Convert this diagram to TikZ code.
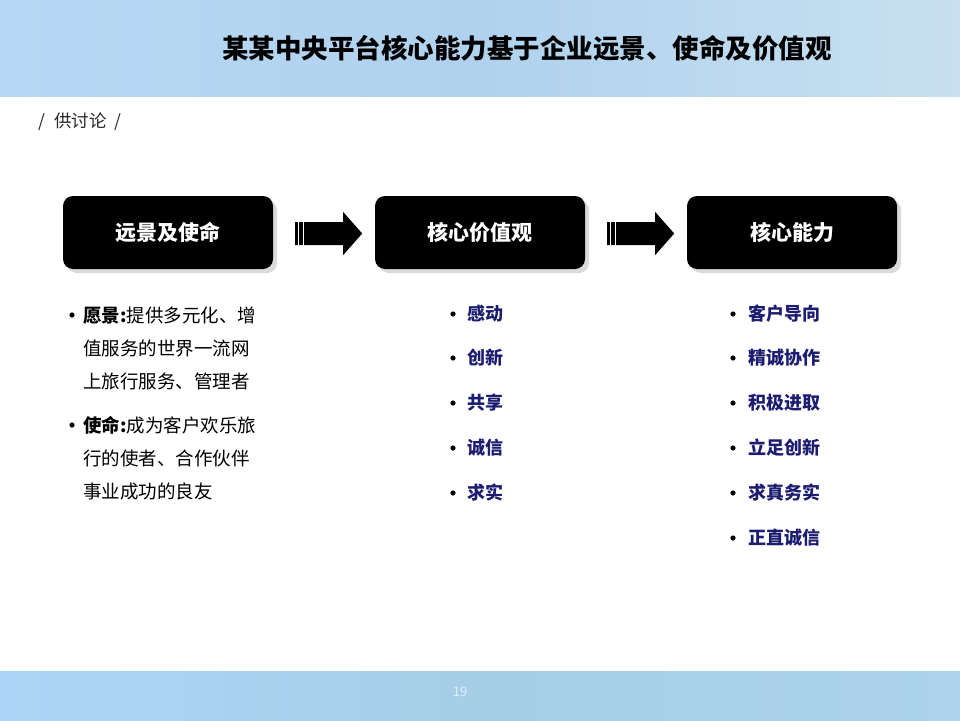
\documentclass[tikz,border=0pt]{standalone}
\usepackage{fontspec}
\setmainfont{Noto Sans CJK SC}
\usepackage{xcolor}
\usepackage{tikz}
\usetikzlibrary{calc,shadows}
\definecolor{bandleft}{RGB}{182,216,246}
\definecolor{bandmid}{RGB}{176,210,238}
\definecolor{bandright}{RGB}{200,224,240}
\definecolor{footleft}{RGB}{172,212,246}
\definecolor{footmid}{RGB}{166,206,232}
\definecolor{footright}{RGB}{172,210,238}
\definecolor{textnavy}{RGB}{28,28,112}
\definecolor{shadowgray}{RGB}{218,218,218}
\definecolor{pagegray}{RGB}{226,238,248}

\tikzset{
  blockarr/.pic={
    \fill[black] (0,-11.5) -- (48,-11.5) -- (48,-21.5) -- (67,0)
                 -- (48,21.5) -- (48,11.5) -- (0,11.5) -- cycle;
    \fill[white] (2.3,-12.5) rectangle (4,12.5);
    \fill[white] (7.7,-12.5) rectangle (9,12.5);
  }
}

\begin{document}
\begin{tikzpicture}[x=1pt, y=-1pt,
    box/.style={rectangle, rounded corners=10pt, fill=black,
                minimum width=210pt, minimum height=73pt,
                text=white, font=\fontsize{21}{25}\selectfont\bfseries,
                drop shadow={fill=shadowgray, opacity=1,
                             shadow xshift=4pt, shadow yshift=-4pt}},
    note/.style={anchor=west, inner sep=0pt, align=left,
                 font=\fontsize{18.5}{33}\selectfont},
    item/.style={anchor=west, inner sep=0pt, text=textnavy,
                 font=\fontsize{18}{22}\selectfont\bfseries},
    dot/.style={fill=black}]

    \useasboundingbox (0,0) rectangle (960,720);

    % Bands
    \shade[left color=bandleft, right color=bandright, middle color=bandmid]
        (0,0) rectangle (960,96);
    \shade[left color=footleft, right color=footright, middle color=footmid]
        (0,671) rectangle (960,720);

    % Title
    \node[font=\fontsize{26.5}{30}\selectfont\bfseries] (title) at (527,48)
        {某某中央平台核心能力基于企业远景、使命及价值观};
    \node[anchor=west, inner sep=0pt, text=black!85,
          font=\fontsize{17.5}{20}\selectfont] (draft) at (38,122)
        {/\hspace{9pt}供讨论\hspace{8pt}/};
    \node[text=pagegray, font=\fontsize{13}{15}\selectfont] (page) at (460,692) {19};

    % Boxes
    \node[box] (vision)  at (168,232.5) {远景及使命};
    \node[box] (values)  at (480,232.5) {核心价值观};
    \node[box] (ability) at (792,232.5) {核心能力};

    % Arrows
    \pic at ($(vision.east)+(22,1)$) {blockarr};
    \pic at ($(values.east)+(22,1)$) {blockarr};

    % Vision and mission
    \node[note] (visiontxt) at (83,348)
        {{\bfseries 愿景:}提供多元化、增\\值服务的世界一流网\\上旅行服务、管理者};
    \node[note] (missiontxt) at (83,458)
        {{\bfseries 使命:}成为客户欢乐旅\\行的使者、合作伙伴\\事业成功的良友};
    \fill[dot] ($(visiontxt.west)+(-11,-33)$) circle (2.6);
    \fill[dot] ($(missiontxt.west)+(-11,-33)$) circle (2.6);

    % Core values
    \node[item] (v1) at (467,314) {感动};
    \node[item] (v2) at (467,358) {创新};
    \node[item] (v3) at (467,403) {共享};
    \node[item] (v4) at (467,448) {诚信};
    \node[item] (v5) at (467,493) {求实};
    \fill[dot] ($(v1.west)+(-14,0)$) circle (2.6);
    \fill[dot] ($(v2.west)+(-14,0)$) circle (2.6);
    \fill[dot] ($(v3.west)+(-14,0)$) circle (2.6);
    \fill[dot] ($(v4.west)+(-14,0)$) circle (2.6);
    \fill[dot] ($(v5.west)+(-14,0)$) circle (2.6);

    % Core abilities
    \node[item] (c1) at (748,314) {客户导向};
    \node[item] (c2) at (748,358) {精诚协作};
    \node[item] (c3) at (748,403) {积极进取};
    \node[item] (c4) at (748,448) {立足创新};
    \node[item] (c5) at (748,493) {求真务实};
    \node[item] (c6) at (748,538) {正直诚信};
    \fill[dot] ($(c1.west)+(-15,0)$) circle (2.6);
    \fill[dot] ($(c2.west)+(-15,0)$) circle (2.6);
    \fill[dot] ($(c3.west)+(-15,0)$) circle (2.6);
    \fill[dot] ($(c4.west)+(-15,0)$) circle (2.6);
    \fill[dot] ($(c5.west)+(-15,0)$) circle (2.6);
    \fill[dot] ($(c6.west)+(-15,0)$) circle (2.6);
\end{tikzpicture}
\end{document}
